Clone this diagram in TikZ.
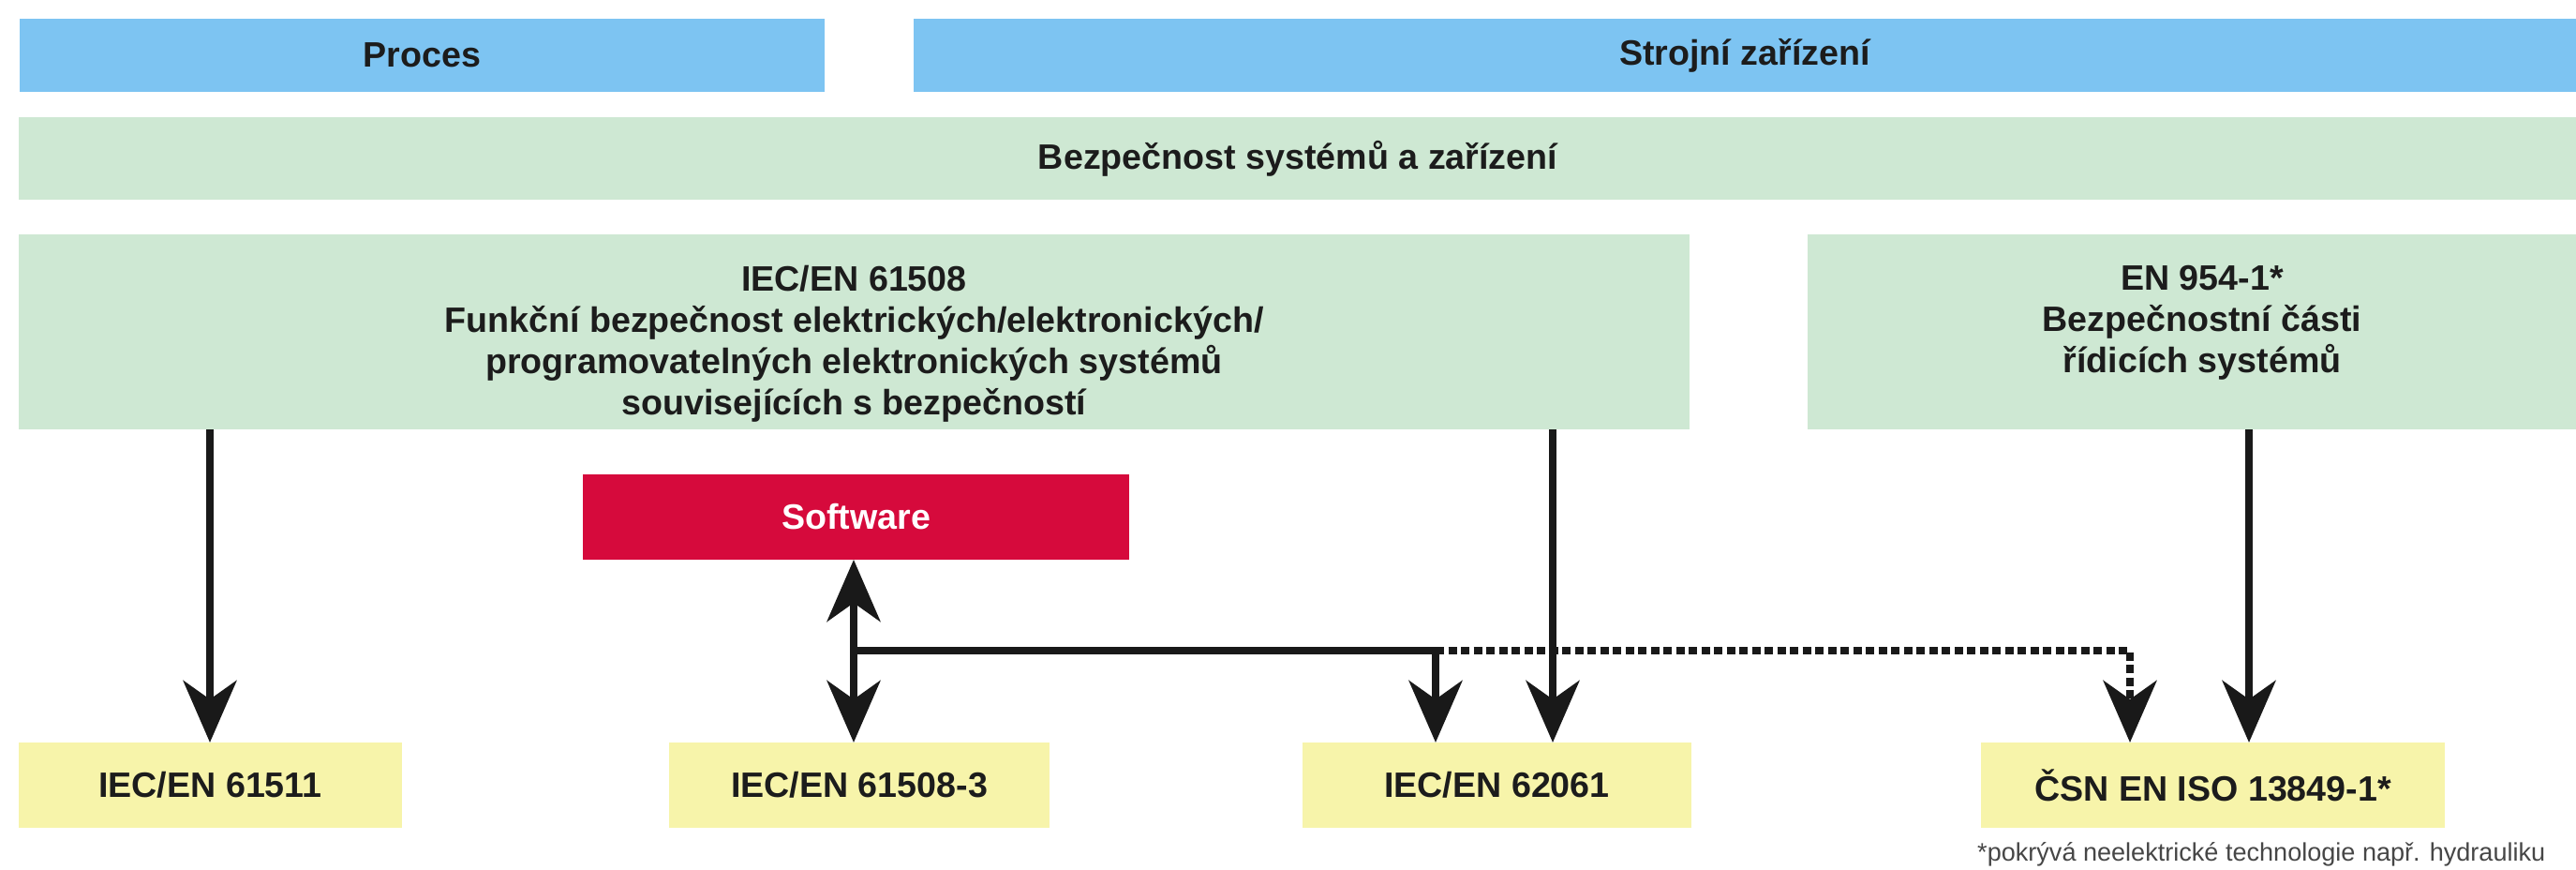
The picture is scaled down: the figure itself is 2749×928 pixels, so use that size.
\documentclass[tikz,border=0pt]{standalone}
\usepackage{fontspec}
\setmainfont{Liberation Sans}
\usetikzlibrary{arrows.meta,calc}
\definecolor{cblue}{RGB}{125,196,242}
\definecolor{cgreen}{RGB}{206,232,211}
\definecolor{cyellow}{RGB}{247,244,170}
\definecolor{cred}{RGB}{214,10,60}
\definecolor{ctext}{RGB}{28,28,28}
\definecolor{cline}{RGB}{25,25,25}
\definecolor{cnote}{RGB}{70,70,70}
\tikzset{
  box/.style={inner sep=0pt, outer sep=0pt, text=ctext,
    font=\fontsize{10.7}{12.5}\selectfont\bfseries},
  bluebox/.style={box, fill=cblue},
  greenbox/.style={box, fill=cgreen},
  yelbox/.style={box, fill=cyellow, minimum height=0.91cm},
  redbox/.style={box, fill=cred, text=white},
  lbl/.style={inner sep=0pt, outer sep=0pt, text=ctext, align=center,
    font=\fontsize{10.7}{12.5}\selectfont\bfseries},
  conn/.style={draw=cline, line width=0.075cm},
  tip/.tip={Stealth[length=0.66cm, width=0.57cm, inset=0.2cm]},
  arr/.style={conn, -tip},
  dblarr/.style={conn, tip-tip},
  dotconn/.style={conn, dash pattern=on 0.09cm off 0.045cm},
}
\begin{document}
\begin{tikzpicture}[x=0.01cm, y=-0.01cm]
\useasboundingbox (0,0) rectangle (2749,928);
% top row
\node[bluebox, minimum width=8.59cm, minimum height=0.78cm] (proces) at (450.5,59) {Proces};
\node[bluebox, minimum width=17.74cm, minimum height=0.78cm] (stroj) at (1862,59) {Strojní zařízení};
\node[greenbox, minimum width=27.28cm, minimum height=0.88cm] (bezp) at (1385,169) {Bezpečnost systémů a zařízení};
% standards boxes
\node[greenbox, minimum width=17.81cm, minimum height=2.08cm] (f61508) at (911.5,354) {};
\node[greenbox, minimum width=8.20cm, minimum height=2.08cm] (en954) at (2339,354) {};
\node[lbl, anchor=north] (t61508) at (911.5,283) {IEC/EN 61508\\Funkční bezpečnost elektrických/elektronických/\\programovatelných elektronických systémů\\souvisejících s bezpečností};
\node[lbl, anchor=north] (t954) at (2350,283) {EN 954-1*\\Bezpečnostní části\\řídicích systémů};
% software
\node[redbox, minimum width=5.83cm, minimum height=0.91cm] (software) at (913.5,551.5) {Software};
% bottom row
\node[yelbox, minimum width=4.09cm] (y61511) at (224.5,837.5) {IEC/EN 61511};
\node[yelbox, minimum width=4.06cm] (y615083) at (917,837.5) {IEC/EN 61508-3};
\node[yelbox, minimum width=4.15cm] (y62061) at (1597.5,837.5) {IEC/EN 62061};
\node[yelbox, minimum width=4.95cm] (ycsn) at (2361.5,837.5) {ČSN EN ISO 13849-1*};
\node[inner sep=0pt, anchor=east, text=cnote, font=\fontsize{7.7}{9}\selectfont] (note) at (2717,911) {*pokrývá neelektrické technologie např. hydrauliku};
% connector coordinates
\coordinate (j) at (911,694);
\coordinate (k) at (1532,694);
\coordinate (m) at (2273,694);
\coordinate (a1) at (224,0);
\coordinate (a2) at (1657,0);
\coordinate (a3) at (2400,0);
% connectors
\draw[arr] (a1 |- f61508.south) -- (a1 |- y61511.north);
\draw[dblarr] (j |- software.south) -- (j |- y615083.north);
\draw[conn] (j) -- (k);
\draw[arr] (k) -- (k |- y62061.north);
\draw[arr] (a2 |- f61508.south) -- (a2 |- y62061.north);
\draw[dotconn] (k) -- (m) -- ([yshift=0.3cm]m |- ycsn.north);
\draw[arr] ([yshift=0.4cm]m |- ycsn.north) -- (m |- ycsn.north);
\draw[arr] (a3 |- en954.south) -- (a3 |- ycsn.north);
\end{tikzpicture}
\end{document}
